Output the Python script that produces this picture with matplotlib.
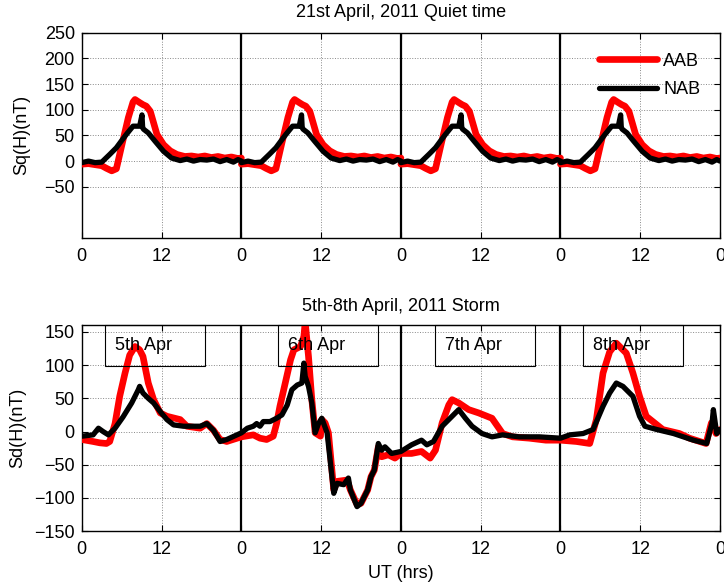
import matplotlib
matplotlib.use('Agg')
import matplotlib.pyplot as plt
from matplotlib.patches import Rectangle
import numpy as np

plt.rcParams['font.family'] = ['Liberation Sans', 'DejaVu Sans']
plt.rcParams['font.size'] = 13

# quiet day profile (21 April 2011), hours 0-24, repeated for each panel day
quiet_hours = [0, 1, 2, 3, 3.7, 4.5, 5.2, 6.0, 7.0, 7.7, 8.0, 8.7, 9.2, 9.7, 10.3, 11.3, 12.3,
               13.3, 14.3, 15.5, 16.5, 17.5, 18.5, 19.5, 20.5, 21.5, 22.5, 23.5, 24]
quiet_aab = [-6, -5, -7, -9, -14, -19, -15, 30, 85, 115, 120, 114, 110, 107, 97, 52, 32,
             20, 13, 9, 10, 8, 10, 7, 9, 6, 8, 5, 6]
nab_hours = [0, 1, 2, 3, 4.2, 5.2, 6.0, 6.7, 7.7, 8.7, 9.05, 9.15, 9.3, 10, 11, 12.3, 13.5,
             14.8, 15.8, 16.8, 17.8, 18.8, 19.8, 20.8, 21.8, 22.8, 23.5, 24]
quiet_nab = [-3, 0, -3, -2, 13, 26, 40, 52, 68, 68, 90, 65, 62, 55, 39, 19, 6,
             1, 4, 0, 3, 2, 4, -1, 3, -2, 3, 0]

# storm period 5th-8th April 2011, hours 0-96
storm_aab_hours = [0, 1.7, 2.7, 3.7, 4.2, 5.0, 5.7, 6.5, 7.2, 8.0, 8.7, 9.2, 10.0, 10.8, 11.8, 12.8,
                   14.8, 15.8, 17.8, 18.8, 19.8, 20.8, 21.8, 24.0, 25.8, 26.8, 27.8, 28.8, 29.3,
                   29.8, 30.6, 31.4, 31.9, 32.9, 33.4, 33.6, 34.1, 34.6, 35.1, 35.9, 36.1, 36.6,
                   37.1, 37.9, 38.4, 39.9, 40.4, 41.4, 42.0, 43.0, 43.5, 44.0, 44.6, 45.1, 46.1,
                   47.1, 48.0, 49.6, 51.1, 52.4, 53.2, 54.2, 55.2, 55.7, 56.7, 58.2, 59.7, 61.7,
                   63.3, 64.8, 67.3, 69.8, 72.0, 74.4, 76.4, 77.4, 78.4, 79.4, 80.4, 81.9, 82.9,
                   83.9, 84.9, 85.9, 87.4, 89.9, 91.4, 93.9, 94.7, 95.4, 96.0]
storm_aab = [-12, -15, -17, -18, -15, 12, 53, 88, 115, 128, 123, 113, 73, 48, 28, 23,
             18, 8, 5, 12, 2, -12, -15, -8, -5, -10, -12, -7, 12,
             38, 73, 108, 123, 128, 143, 165, 113, 48, -2, -7, 18, 13,
             -2, -88, -75, -73, -88, -110, -108, -88, -68, -58, -23, -38, -35,
             -40, -33, -33, -30, -40, -28, 13, 40, 48, 43, 33, 28, 20,
             -3, -8, -10, -13, -13, -15, -18, 18, 88, 120, 133, 118, 88,
             53, 23, 15, 3, -3, -10, -18, 13, -3, 3]
storm_nab_hours = [0, 1.7, 2.5, 3.2, 4.0, 5.0, 6.2, 7.5, 8.5, 8.7, 9.2, 10.0, 10.8, 11.8, 12.8,
                   13.8, 15.3, 17.8, 18.8, 19.8, 20.8, 21.8, 24.0, 24.9, 25.8, 26.3, 26.8, 27.3,
                   28.3, 29.3, 30.1, 30.9, 31.6, 32.4, 33.1, 33.4, 33.6, 34.1, 34.6, 35.1, 35.6,
                   36.1, 36.9, 37.9, 38.4, 39.4, 40.1, 40.4, 41.4, 42.0, 43.0, 43.5, 44.0, 44.6,
                   45.1, 45.6, 46.6, 48.0, 49.6, 51.1, 51.9, 52.9, 54.2, 55.4, 56.7, 57.7, 58.7,
                   60.2, 61.7, 63.3, 65.8, 68.8, 72.0, 73.4, 75.4, 76.9, 78.4, 79.4, 80.4, 81.4,
                   82.9, 83.9, 84.7, 86.5, 89.0, 90.5, 92.0, 94.0, 94.8, 95.0, 95.5, 96.0]
storm_nab = [-7, -5, 5, 0, -5, 5, 22, 43, 63, 68, 58, 50, 43, 30, 18,
             10, 8, 8, 12, 2, -15, -12, -2, 5, 8, 12, 8, 15,
             15, 20, 25, 40, 63, 70, 73, 103, 83, 68, 43, -2, 12,
             20, -2, -93, -78, -80, -70, -88, -113, -108, -88, -68, -58, -18,
             -28, -23, -33, -30, -20, -13, -20, -15, 8, 20, 33, 20, 8,
             -3, -8, -5, -8, -8, -10, -5, -3, 3, 38, 58, 73, 68,
             53, 23, 8, 3, -3, -8, -13, -18, 13, 33, -3, 3]

day_labels = ['5th Apr', '6th Apr', '7th Apr', '8th Apr']
box_left = [3.5, 29.5, 53.1, 75.4]

xticks = np.arange(0, 97, 12)
xticklabels = ['0', '12'] * 4 + ['0']

fig = plt.figure(figsize=(7.24, 5.85), dpi=100)
ax1 = fig.add_axes([0.113, 0.593, 0.8815, 0.351])
ax2 = fig.add_axes([0.113, 0.092, 0.8815, 0.352])


def style_axes(ax):
	ax.set_xlim(0, 96)
	ax.set_xticks(xticks)
	ax.set_xticklabels(xticklabels)
	ax.tick_params(direction='in', length=4, top=True, right=True, labelsize=13, pad=5)
	ax.tick_params(axis='x', pad=7)
	ax.grid(True, color='#888888', linestyle=':', linewidth=0.7)
	for s in ax.spines.values():
		s.set_linewidth(1.0)
	for d in (24, 48, 72):
		ax.axvline(d, color='black', linewidth=1.6, zorder=3)


# top panel
for day in range(4):
	off = 24 * day
	ax1.plot(np.array(quiet_hours) + off, quiet_aab, color='red', linewidth=4.8,
	         solid_capstyle='round', solid_joinstyle='round', zorder=4,
	         label='AAB' if day == 0 else None)
	ax1.plot(np.array(nab_hours) + off, quiet_nab, color='black', linewidth=3.8,
	         solid_capstyle='round', solid_joinstyle='round', zorder=5,
	         label='NAB' if day == 0 else None)
style_axes(ax1)
ax1.set_ylim(-150, 250)
ax1.set_yticks(range(-50, 251, 50))
ax1.set_ylabel('Sq(H)(nT)', labelpad=10)
ax1.set_title('21st April, 2011 Quiet time', fontsize=13, pad=11)
ax1.legend(loc='upper right', frameon=False, handlelength=3.2, handletextpad=0.35,
           labelspacing=0.65, borderaxespad=0.7, fontsize=13)

# bottom panel
ax2.plot(storm_aab_hours, storm_aab, color='red', linewidth=4.8,
         solid_capstyle='round', solid_joinstyle='round', zorder=4)
ax2.plot(storm_nab_hours, storm_nab, color='black', linewidth=3.8,
         solid_capstyle='round', solid_joinstyle='round', zorder=5)
style_axes(ax2)
ax2.set_ylim(-150, 160)
ax2.set_yticks(range(-150, 151, 50))
ax2.set_ylabel('Sd(H)(nT)', labelpad=6)
ax2.set_xlabel('UT (hrs)', labelpad=5)
ax2.set_title('5th-8th April, 2011 Storm', fontsize=13, pad=10)

for x0, lab in zip(box_left, day_labels):
	ax2.add_patch(Rectangle((x0, 98), 15, 62, fill=False, edgecolor='black',
	                        linewidth=0.8, zorder=6, clip_on=False))
	ax2.text(x0 + 1.5, 129, lab, ha='left', va='center', fontsize=13, zorder=7)

plt.savefig('out.png', dpi=100)
